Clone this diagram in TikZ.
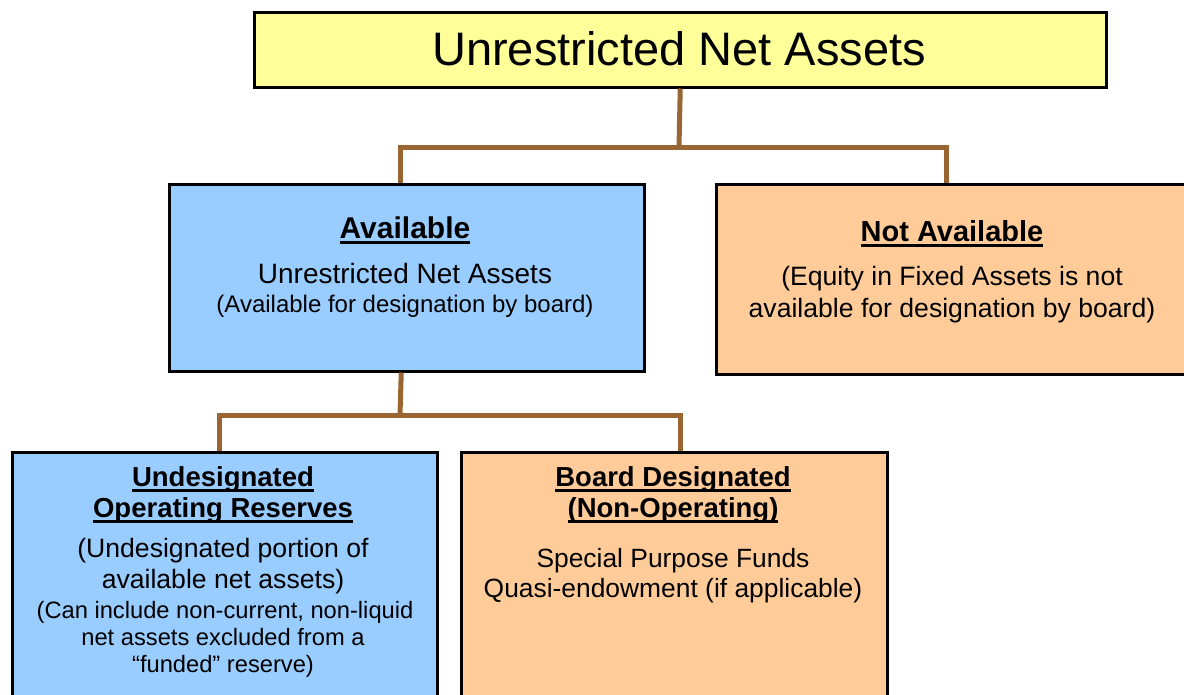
\documentclass[tikz,border=0pt]{standalone}
\usepackage{fontspec}
\setmainfont{Liberation Sans}
\definecolor{boxyellow}{HTML}{FFFF99}
\definecolor{boxblue}{HTML}{99CCFF}
\definecolor{boxorange}{HTML}{FFCC99}
\definecolor{connbrown}{HTML}{996633}
\newcommand\ulx[1]{\setbox0=\hbox{#1}\rlap{\vrule width\wd0 height -2.5pt depth 5.5pt}\box0}
\newcommand\fs[1]{\fontsize{#1}{#1}\selectfont}
\tikzset{
  box/.style={draw=black, line width=2.5pt, rectangle, inner sep=0pt, anchor=north west},
  conn/.style={draw=connbrown, line width=5pt, line join=miter},
  txt/.style={anchor=base, inner sep=0pt, text=black},
}
\begin{document}
\begin{tikzpicture}[x=1pt,y=-1pt]
\useasboundingbox (0,0) rectangle (1184,694);
\clip (0,0) rectangle (1184,694);
\fill[white] (0,0) rectangle (1184,694);

% boxes
\node[box, fill=boxyellow, minimum width=852pt, minimum height=75pt] (top) at (253,11) {};
\node[box, fill=boxblue, minimum width=475pt, minimum height=187pt] (avail) at (168,183) {};
\node[box, fill=boxorange, minimum width=490pt, minimum height=190pt] (notav) at (715,183) {};
\node[box, fill=boxblue, minimum width=425pt, minimum height=270pt] (undes) at (11,451) {};
\node[box, fill=boxorange, minimum width=426pt, minimum height=270pt] (board) at (460,451) {};

% connectors
\coordinate (j1) at (679,147);
\coordinate (j2) at (400,415);
\draw[conn] (top.south) -- (j1);
\draw[conn] ([xshift=-6.5pt]avail.north) |- (j1) -| (946,183) coordinate (nadrop);
\draw[conn] ([xshift=-5.5pt]avail.south) -- (j2);
\draw[conn] ([xshift=-5.5pt]undes.north) |- (j2) -| ([xshift=6pt]board.north);

% texts
\node[txt] (tTitle) at (679,65) {\fs{47}Unrestricted Net Assets};

\node[txt] (tAv1) at (405,238) {\fs{30}\bfseries\ulx{Available}};
\node[txt] (tAv2) at (405,283) {\fs{28}Unrestricted Net Assets};
\node[txt] (tAv3) at (405,312) {\fs{24}(Available for designation by board)};

\node[txt] (tNa1) at (952,241) {\fs{29}\bfseries\ulx{Not Available}};
\node[txt] (tNa2) at (952,285) {\fs{26.6}(Equity in Fixed Assets is not};
\node[txt] (tNa3) at (952,317) {\fs{26.6}available for designation by board)};

\node[txt] (tUd1) at (223,486) {\fs{27.5}\bfseries\ulx{Undesignated}};
\node[txt] (tUd2) at (223,517) {\fs{27.5}\bfseries\ulx{Operating Reserves}};
\node[txt] (tUd3) at (223,557) {\fs{26.6}(Undesignated portion of};
\node[txt] (tUd4) at (223,588) {\fs{26.6}available net assets)};
\node[txt] (tUd5) at (225,618) {\fs{23.7}(Can include non-current, non-liquid};
\node[txt] (tUd6) at (223,645) {\fs{23.7}net assets excluded from a};
\node[txt] (tUd7) at (223,672) {\fs{23.7}“funded” reserve)};

\node[txt] (tBd1) at (673,486) {\fs{27.5}\bfseries\ulx{Board Designated}};
\node[txt] (tBd2) at (673,517) {\fs{27.5}\bfseries\ulx{(Non-Operating)}};
\node[txt] (tBd3) at (673,567) {\fs{26.4}Special Purpose Funds};
\node[txt] (tBd4) at (673,597) {\fs{26.4}Quasi-endowment (if applicable)};
\end{tikzpicture}
\end{document}
